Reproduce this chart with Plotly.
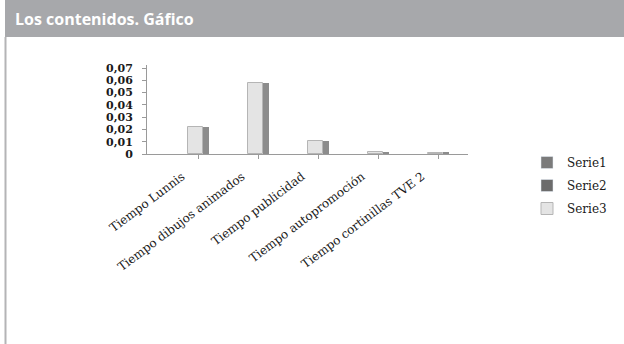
import plotly.graph_objects as go

# Categories and series values
categories = [
    "Tiempo Lunnis",
    "Tiempo dibujos animados",
    "Tiempo publicidad",
    "Tiempo autopromoción",
    "Tiempo cortinillas TVE 2",
]
serie1 = [None, None, None, None, None]
serie2 = [None, None, None, None, None]
serie3 = [0.022, 0.058, 0.011, 0.002, 0.001]

y_tick_values = [0, 0.01, 0.02, 0.03, 0.04, 0.05, 0.06, 0.07]
y_tick_labels = ["0", "0,01", "0,02", "0,03", "0,04", "0,05", "0,06", "0,07"]

W, H = 624, 344
L, R, T, B = 147, 156, 65, 190
pw, ph = W - L - R, H - T - B


def px_x(x):
    return (x - L) / pw


def px_y(y):
    return 1 + (T - y) / ph


serif = "DejaVu Serif"
xs = list(range(len(categories)))

fig = go.Figure()

fig.add_trace(go.Bar(name="Serie1", x=xs, y=serie1, marker_color="#7b7b7b",
                     width=0.3, legendgroup="s1"))
fig.add_trace(go.Bar(name="Serie2", x=xs, y=serie2, marker_color="#6c6c6c",
                     width=0.3, legendgroup="s2"))

# Front face of each column
fig.add_trace(go.Bar(
    name="Serie3", x=xs, y=serie3, width=0.26, offset=-0.17, legendgroup="s3",
    marker=dict(color="#e4e4e4", line=dict(color="#b5b5b5", width=1)),
))
# Darker side face giving a shaded, solid look
fig.add_trace(go.Bar(
    name="Serie3 lado", x=xs, y=serie3, width=0.09, offset=0.09, legendgroup="s3",
    marker=dict(color="#8c8c8c", line=dict(color="#8c8c8c", width=0)),
    showlegend=False, hoverinfo="skip",
))

fig.update_layout(
    width=W, height=H,
    margin=dict(l=L, r=R, t=T, b=B, autoexpand=False),
    paper_bgcolor="white", plot_bgcolor="white",
    barmode="overlay", bargap=0,
    separators=",.",
    showlegend=True,
    legend=dict(
        x=px_x(527), y=px_y(148), xanchor="left", yanchor="top",
        font=dict(family=serif, size=12, color="#1a1a1a"),
        itemwidth=30, tracegroupgap=4, bgcolor="rgba(0,0,0,0)",
        traceorder="grouped",
    ),
    xaxis=dict(
        tickmode="array", tickvals=xs, ticktext=categories,
        range=[-0.85, 4.5], tickangle=-37,
        showline=True, linecolor="#9a9a9a", linewidth=1,
        ticks="outside", ticklen=4, tickcolor="#9a9a9a",
        ticklabelstandoff=6, ticklabelshift=-16,
        showgrid=False, zeroline=False,
        tickfont=dict(family=serif, size=12, color="#1a1a1a"),
    ),
    yaxis=dict(
        tickmode="array", tickvals=y_tick_values, ticktext=y_tick_labels,
        range=[0, 0.0725],
        showline=True, linecolor="#9a9a9a", linewidth=1,
        ticks="outside", ticklen=4, tickcolor="#9a9a9a",
        ticklabelstandoff=7,
        showgrid=False, zeroline=False,
        tickfont=dict(family=serif, size=11, color="#1a1a1a", weight="bold"),
    ),
)

# Header band with title
fig.add_shape(
    type="rect", xref="paper", yref="paper",
    x0=px_x(5), x1=px_x(W + 2), y0=px_y(37), y1=px_y(-2),
    fillcolor="#a7a8ab", line=dict(width=0), layer="below",
)
# Thin frame line on the left edge
fig.add_shape(
    type="line", xref="paper", yref="paper",
    x0=px_x(5.5), x1=px_x(5.5), y0=px_y(37), y1=px_y(H + 2),
    line=dict(color="#b4b4b6", width=2),
)
fig.add_annotation(
    text="<b>Los contenidos. Gáfico</b>",
    xref="paper", yref="paper", x=px_x(13), y=px_y(19),
    xanchor="left", yanchor="middle", showarrow=False,
    font=dict(family="Open Sans", size=16, color="white"),
)

fig.write_html("out.html")
